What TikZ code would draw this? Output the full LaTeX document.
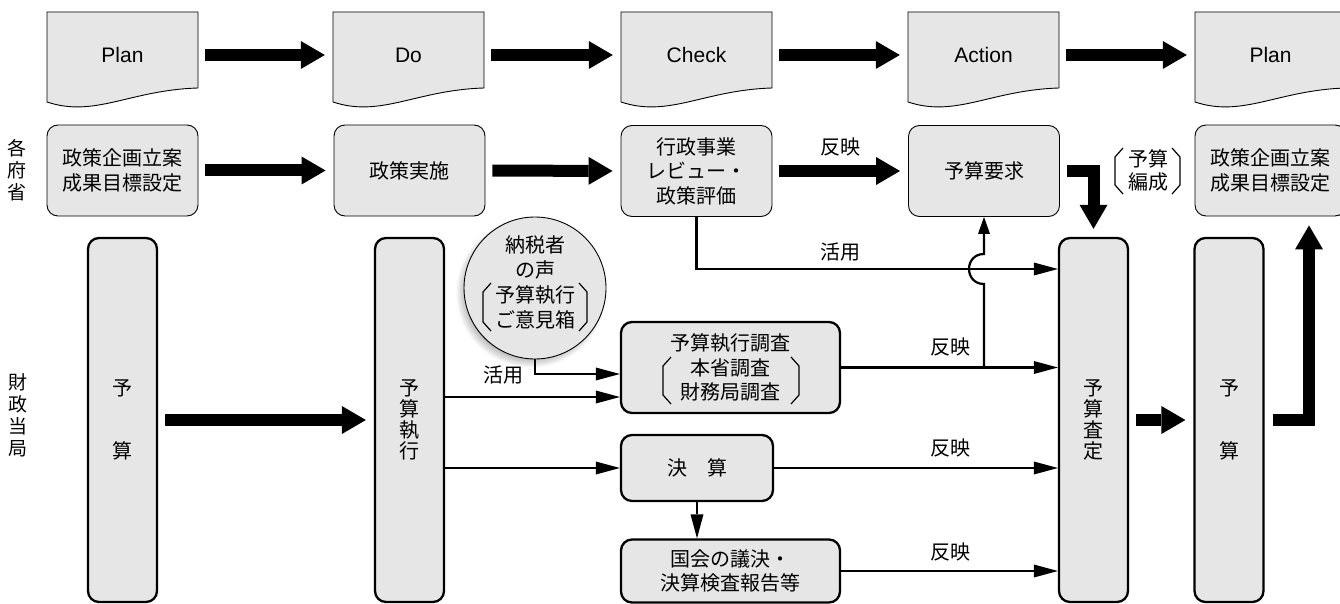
\documentclass[tikz,border=0pt]{standalone}
\usepackage{fontspec}
\setmainfont{Liberation Sans}
\newfontfamily\jp{Noto Sans CJK JP}
\usetikzlibrary{arrows.meta,shadows,calc}
\definecolor{boxgray}{HTML}{E6E6E6}
\tikzset{
 doctext/.style={minimum width=151pt,minimum height=86pt,inner sep=0pt,font=\fontsize{21}{24}\selectfont},
 docshape/.style={draw=black,line width=0.9pt,fill=boxgray},
 softbox/.style={draw=black,line width=0.9pt,fill=boxgray,rounded corners=11pt,minimum width=151pt,minimum height=91pt,inner sep=0pt,align=center,font=\jp\fontsize{20}{24.5}\selectfont},
 hardbox/.style={draw=black,line width=2.3pt,fill=boxgray,rounded corners=11pt,inner sep=0pt,align=center,font=\jp\fontsize{20}{24.5}\selectfont},
 tallbox/.style={hardbox,minimum width=69pt,minimum height=364pt,font=\jp\fontsize{20}{21}\selectfont},
 bigarrow/.style={line width=12pt,-{Triangle[length=24pt,width=28pt,line width=0pt]},line join=miter},
 conn/.style={line width=2.2pt,-{Triangle[length=24pt,width=13pt,line width=0pt]}},
 lbl/.style={font=\jp\fontsize{20}{24}\selectfont,inner sep=0pt},
 brk/.style={line width=1.2pt,line join=miter},
}
\newcommand\mydoc[3]{%
 \filldraw[docshape] (#1,12) -- (#1+151,12) -- (#1+151,88) .. controls (#1+83,90) and (#1+48,118) .. (#1,102) -- cycle;
 \node[doctext] (#2) at (#1+75.5,55) {#3};}
\newcommand\mylbrk[3]{\draw[brk] (#1+8,#2) -- (#1,#2+9) -- (#1,#3-9) -- (#1+8,#3);}
\newcommand\myrbrk[3]{\draw[brk] (#1-8,#2) -- (#1,#2+9) -- (#1,#3-9) -- (#1-8,#3);}
\begin{document}
\begin{tikzpicture}[x=1pt,y=-1pt]
\useasboundingbox (0,0) rectangle (1340,604);
% top row documents
\mydoc{47}{d1}{Plan}
\mydoc{333}{d2}{Do}
\mydoc{621}{d3}{Check}
\mydoc{908}{d4}{Action}
\mydoc{1195}{d5}{Plan}
% second row
\node[softbox] (r1) at (122.5,170.5) {政策企画立案\\成果目標設定};
\node[softbox] (r2) at (409.5,170.5) {政策実施};
\node[softbox] (r3) at (696.5,171) {行政事業\\レビュー・\\政策評価};
\node[softbox] (r4) at (984,171) {予算要求};
\node[softbox] (r5) at (1270.5,170.5) {政策企画立案\\成果目標設定};
% side labels
\node[lbl,align=center,font=\jp\fontsize{19}{22}\selectfont] (kakufusho) at (17,170) {各\\府\\省};
\node[lbl,align=center,font=\jp\fontsize{19}{22}\selectfont] (zaisei) at (18,415) {財\\政\\当\\局};
% tall boxes
\node[tallbox] (b1) at (122.5,420) {予\\[42pt]算};
\node[tallbox] (b2) at (409.5,420) {予\\算\\執\\行};
\node[tallbox] (b3) at (1093.5,420) {予\\算\\査\\定};
\node[tallbox] (b4) at (1229,420) {予\\[42pt]算};
% middle boxes
\node[hardbox,minimum width=219pt,minimum height=91pt] (chosa) at (730.5,367.5) {予算執行調査\\本省調査\\財務局調査};
\node[hardbox,minimum width=152pt,minimum height=66pt] (kessan) at (697,468) {決　算};
\node[hardbox,minimum width=219pt,minimum height=63pt] (kokkai) at (730.5,571) {国会の議決・\\決算検査報告等};
% circle
\node[circle,draw=black,line width=0.9pt,fill=boxgray,minimum size=142pt,inner sep=0pt,circular drop shadow={shadow xshift=-4pt,shadow yshift=-4pt,shadow scale=1.06,opacity=0.6}] (voice) at (535,288) {};
\node[lbl,align=center,font=\jp\fontsize{20}{25}\selectfont] (voicetext) at (535,282.5) {納税者\\の声\\予算執行\\ご意見箱};
% brackets
\mylbrk{483}{283}{331}
\myrbrk{587}{283}{331}
\mylbrk{663}{357}{404}
\myrbrk{799}{357}{404}
\mylbrk{1115}{148}{194}
\myrbrk{1180}{148}{194}
\node[lbl,align=center,font=\jp\fontsize{20}{23}\selectfont] (hensei) at (1148,170.5) {予算\\編成};
% big arrows
\draw[bigarrow,shorten <=7pt,shorten >=8pt] (d1.east) -- (d2.west);
\draw[bigarrow,shorten <=7pt,shorten >=8pt] (d2.east) -- (d3.west);
\draw[bigarrow,shorten <=7pt,shorten >=8pt] (d3.east) -- (d4.west);
\draw[bigarrow,shorten <=7pt,shorten >=8pt] (d4.east) -- (d5.west);
\draw[bigarrow,shorten <=7pt,shorten >=8pt] (r1.east) -- (r2.west);
\draw[bigarrow,shorten <=7pt,shorten >=8pt] (r2.east) -- (r3.west);
\draw[bigarrow,shorten <=7pt,shorten >=8pt] (r3.east) -- (r4.west);
\draw[bigarrow,shorten <=7pt,shorten >=8pt] (b1.east) -- (b2.west);
\draw[bigarrow,shorten <=7pt,shorten >=8pt] (b3.east) -- (b4.west);
\draw[bigarrow,shorten <=7pt,shorten >=8pt] (r4.east) -| (b3.north);
\coordinate (upx) at (1309,0);
\draw[bigarrow,shorten <=8pt,shorten >=9pt] (b4.east) -| (upx |- r5.south);
% thin connectors
\coordinate (yk) at (0,269);
\coordinate (ys) at (0,374);
\coordinate (yb) at (0,397);
\draw[conn] (r3.south) |- (b3.west |- yk);
\draw[conn] (voice.south) |- (chosa.west |- ys);
\draw[conn] (b2.east |- yb) -- (chosa.west |- yb);
\draw[conn] (b2.east |- kessan.west) -- (kessan.west);
\draw[conn] (kessan.south) -- (kokkai.north -| kessan.south);
\draw[conn] (chosa.east) -- (b3.west |- chosa.east);
\draw[conn] (kessan.east) -- (b3.west |- kessan.east);
\draw[conn] (kokkai.east) -- (b3.west |- kokkai.east);
\coordinate (jb) at (984,284);
\coordinate (jt) at (984,254);
\draw[conn,-{Triangle[length=17pt,width=12pt,line width=0pt]}] (r4.south |- chosa.east) -- (jb) .. controls (964,284) and (964,254) .. (jt) -- (r4.south);
% labels
\node[lbl] (l1) at (840,147) {反映};
\node[lbl] (l2) at (840,252) {活用};
\node[lbl] (l3) at (503,375) {活用};
\node[lbl] (l4) at (950,347) {反映};
\node[lbl] (l5) at (950,448) {反映};
\node[lbl] (l6) at (950,552) {反映};
\end{tikzpicture}
\end{document}
